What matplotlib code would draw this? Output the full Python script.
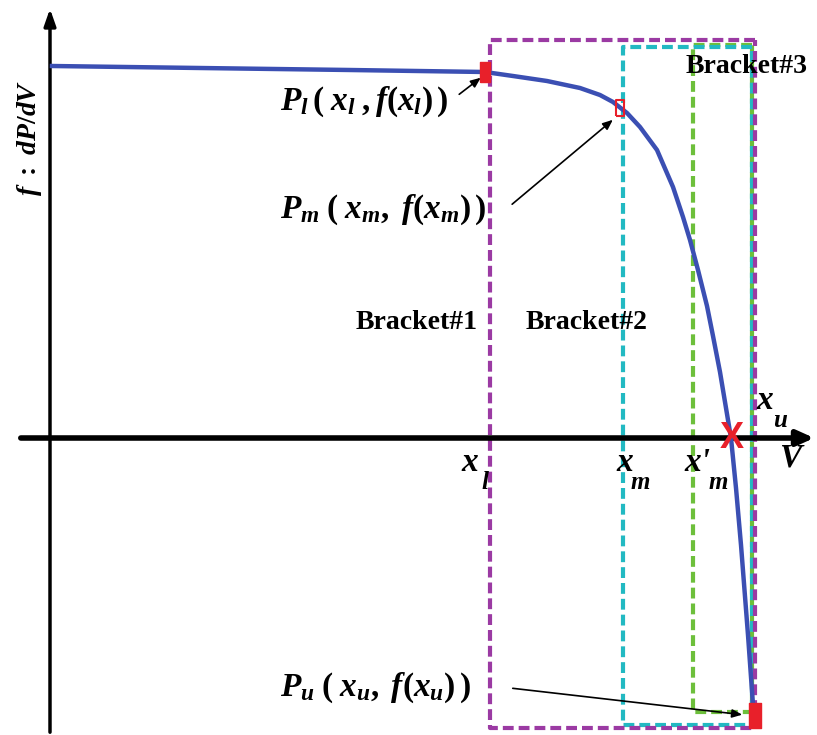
import matplotlib
matplotlib.use("Agg")
import matplotlib.pyplot as plt

plt.rcParams["mathtext.fontset"] = "custom"
plt.rcParams["mathtext.it"] = "Liberation Serif:italic:bold"
plt.rcParams["mathtext.rm"] = "Liberation Serif:bold"

# f = dP/dV curve (x = V position, y = f value; the V axis sits at y = 0)
curve_x = [52, 200, 350, 485, 513, 547, 580, 600, 613, 627, 640, 657, 673, 683, 690,
           698, 707, 713, 720, 725, 731, 736, 741, 748, 753, 755]
curve_y = [372, 370, 368, 366, 362, 357, 350, 343, 336, 325, 311, 288, 251, 221, 198,
           168, 132, 102, 66, 36, 0, -50, -107, -197, -267, -280]

# bracket boxes: left, right, bottom, top
bracket_names = ["Bracket#1", "Bracket#2", "Bracket#3"]
bracket_left = [490, 623, 693]
bracket_right = [755, 752, 752]
bracket_bottom = [-290, -287, -274]
bracket_top = [398, 391, 393]
bracket_colors = ["#9b3aa3", "#22b9c2", "#6dbf3b"]

# sampled points P_l, P_m, P_u and the root
pts_x = [485, 620, 755]
pts_y = [366, 330, -277]
root_x = 732

# V-axis labels: main letter, subscript, position
vlabel_main = ["x", "x", "x'", "x"]
vlabel_sub = ["l", "m", "m", "u"]
vlabel_x = [470, 625, 697, 765]
vlabel_y = [-24, -24, -24, 38]

fig = plt.figure(figsize=(8.17, 7.35), dpi=100)
ax = fig.add_axes([0, 0, 1, 1])
ax.set_xlim(0, 817)
ax.set_ylim(-297, 438)
ax.axis("off")

# axes with arrows
ax.annotate("", xy=(817, 0), xytext=(18, 0),
            arrowprops=dict(arrowstyle="-|>,head_length=1.0,head_width=0.45", lw=4, color="black"))
ax.annotate("", xy=(50, 432), xytext=(50, -297),
            arrowprops=dict(arrowstyle="-|>,head_length=1.0,head_width=0.35", lw=2.5, color="black"))

# bracket boxes drawn back to front
for i in [2, 1, 0]:
    l, r, b, t = bracket_left[i], bracket_right[i], bracket_bottom[i], bracket_top[i]
    ax.plot([r, l, l, r, r], [t, t, b, b, t], color=bracket_colors[i], lw=3,
            dashes=(2.6, 1.2), solid_capstyle="butt", zorder=2 + (2 - i) * 0.1)

ax.plot(curve_x, curve_y, color="#3b4fb3", lw=3.2, zorder=4, solid_joinstyle="round")

# red markers at the sample points
rect = [(-1, -2), (1, -2), (1, 2), (-1, 2), (-1, -2)]
ax.plot(pts_x[0], pts_y[0], marker=rect, ms=14, color="#e8202a", zorder=5)
ax.plot(pts_x[1], pts_y[1], marker=rect, ms=12, mfc="none", mec="#e8202a", mew=1.5, zorder=5)
ax.plot(pts_x[2], pts_y[2], marker=rect, ms=18, color="#e8202a", zorder=5)
ax.text(root_x, 0, "X", color="#e8202a", fontsize=26, family="Liberation Sans",
        fontweight="bold", ha="center", va="center", zorder=6)

serif = dict(family="Liberation Serif", fontweight="bold", color="black")
ax.text(30, 300, r"$f\ :\ dP/dV$", fontsize=20, rotation=90, ha="center", va="center")
ax.text(280, 336, r"$P_l\,(\;x_l\;,f(x_l)\,)$", fontsize=24, ha="left", va="center")
ax.text(280, 228, r"$P_m\;(\;x_m,\;f(x_m)\,)$", fontsize=24, ha="left", va="center")
ax.text(280, -250, r"$P_u\;(\;x_u,\;f(x_u)\,)$", fontsize=24, ha="left", va="center")

ax.text(417, 116, bracket_names[0], fontsize=20, ha="center", va="center", **serif)
ax.text(587, 116, bracket_names[1], fontsize=20, ha="center", va="center", **serif)
ax.text(747, 372, bracket_names[2], fontsize=20, ha="center", va="center", **serif)

for main, sub, x, y in zip(vlabel_main, vlabel_sub, vlabel_x, vlabel_y):
    ax.text(x, y, main, fontsize=24, style="italic", ha="center", va="center", **serif)
    ax.text(x + 9 + 6 * len(main), y - 20, sub, fontsize=18, style="italic",
            ha="center", va="center", **serif)
ax.text(790, -20, "V", fontsize=24, style="italic", ha="center", va="center", **serif)

# pointer arrows to the sample points
arrow = dict(arrowstyle="-|>,head_length=0.6,head_width=0.25", lw=1.2, color="black")
ax.annotate("", xy=(483, 362), xytext=(457, 342), arrowprops=arrow)
ax.annotate("", xy=(615, 320), xytext=(510, 232), arrowprops=arrow)
ax.annotate("", xy=(745, -277), xytext=(510, -250), arrowprops=arrow)

fig.savefig("out.png", dpi=100)
